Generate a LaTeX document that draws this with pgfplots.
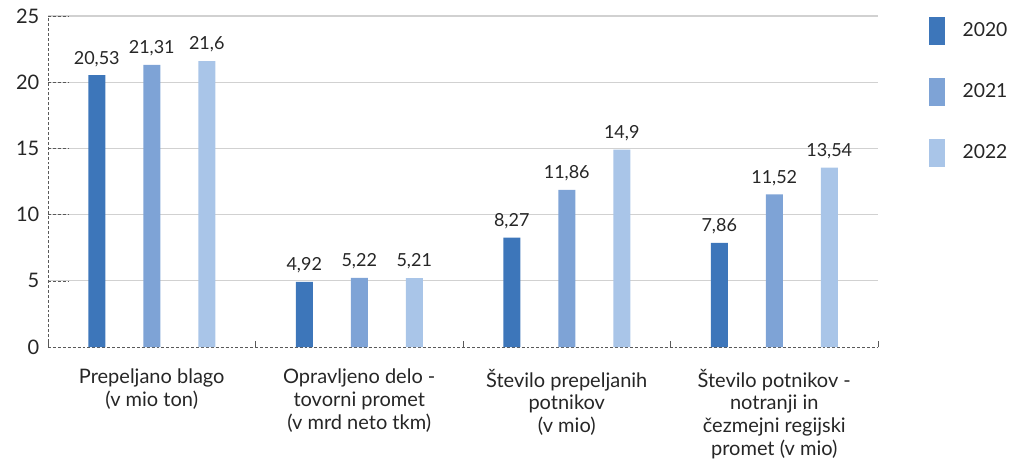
\documentclass[border=0pt]{standalone}
\usepackage{fontspec}
\setmainfont{Lato}
\usepackage{pgfplots}
\pgfplotsset{compat=1.18}
\usetikzlibrary{calc}

\definecolor{cA}{HTML}{3D76BA}
\definecolor{cB}{HTML}{7EA3D6}
\definecolor{cC}{HTML}{A9C5E8}
\definecolor{txt}{HTML}{262626}
\definecolor{axisgray}{HTML}{595959}

\begin{document}
\begin{tikzpicture}
\begin{axis}[
  scale only axis,
  width=622.5pt, height=248.25pt,
  ybar, bar width=12.75pt,
  xmin=-0.5, xmax=3.5,
  ymin=0, ymax=25,
  axis x line*=bottom, axis y line*=left,
  axis line style={axisgray, dash pattern=on 2.2pt off 1.5pt, -},
  ytick={5,10,15,20,25},
  extra y ticks={0},
  extra y tick style={grid=none, major tick length=0pt},
  ymajorgrids, major grid style={solid, color=black!18, line width=0.8pt},
  tick align=inside,
  major tick length=16pt,
  ytick style={axisgray, dash pattern=on 2.2pt off 1.5pt},
  yticklabel style={font=\fontsize{15}{17}\selectfont, text=txt, xshift=-3pt},
  xtick={0,1,2,3},
  xtick style={draw=none},
  xticklabels={{Prepeljano blago\\(v mio ton)},
    {Opravljeno delo -\\tovorni promet\\(v mrd neto tkm)},
    {Število prepeljanih\\potnikov\\(v mio)},
    {Število potnikov -\\notranji in\\čezmejni regijski\\promet (v mio)}},
  xticklabel style={align=center, font=\fontsize{15}{17}\selectfont, text=txt, yshift=-13pt},
  extra x ticks={-0.5,0.5,1.5,2.5,3.5},
  extra x tick labels={},
  extra x tick style={major tick length=4.5pt, xtick style={draw=axisgray, dash pattern=on 1pt off 1pt, solid}},
  /pgf/number format/assume math mode=true,
  /pgf/number format/use comma,
  nodes near coords,
  nodes near coords style={font=\fontsize{13.5}{15}\selectfont, text=txt, yshift=3pt},
  legend image code/.code={\fill[#1] (0pt,-10.5pt) rectangle (12pt,10.5pt);},
  legend style={draw=none, fill=none, at={(rel axis cs:1.0566,1.006)}, anchor=north west,
    row sep=24.75pt, column sep=13pt, nodes={inner sep=0pt},
    font=\fontsize{14.5}{16}\selectfont, text=txt},
  legend cell align=left,
  clip=false,
]
\addplot[fill=cA, draw=none, bar shift=-41.25pt] coordinates {(0,20.53) (1,4.92) (2,8.27) (3,7.86)};
\addplot[fill=cB, draw=none, bar shift=0pt] coordinates {(0,21.31) (1,5.22) (2,11.86) (3,11.52)};
\addplot[fill=cC, draw=none, bar shift=41.25pt] coordinates {(0,21.6) (1,5.21) (2,14.9) (3,13.54)};
\legend{2020,2021,2022}
\end{axis}
\pgfresetboundingbox
\path[use as bounding box] ($(current axis.south west)+(-36pt,-85.5pt)$) rectangle ($(current axis.north east)+(99pt,12pt)$);
\end{tikzpicture}
\end{document}
